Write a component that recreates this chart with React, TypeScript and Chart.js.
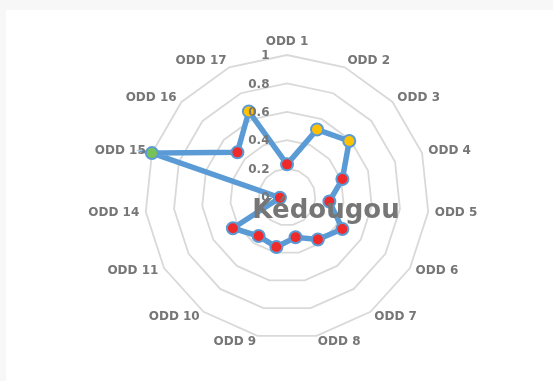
import React, { useEffect, useRef } from "react";
import { Chart, registerables } from "chart.js";

Chart.register(...registerables);

const CATEGORIES = [
  "ODD 1", "ODD 2", "ODD 3", "ODD 4", "ODD 5", "ODD 6", "ODD 7", "ODD 8",
  "ODD 9", "ODD 10", "ODD 11", "ODD 14", "ODD 15", "ODD 16", "ODD 17",
];
const VALUES = [0.23, 0.52, 0.59, 0.41, 0.3, 0.45, 0.37, 0.29, 0.36, 0.34, 0.44, 0.05, 1.0, 0.47, 0.66];
const TICK_VALUES = [0, 0.2, 0.4, 0.6, 0.8, 1];
const TICK_LABELS = ["0", "0.2", "0.4", "0.6", "0.8", "1"];
const TITLE = "Kédougou";

const LINE_COLOR = "#5B9BD5";
const RED = "#EE2A2A";
const YELLOW = "#FFC000";
const GREEN = "#77C257";
const TEXT_COLOR = "#767676";
const GRID_COLOR = "#D9D9D9";
const FONT_FAMILY = '"DejaVu Sans", sans-serif';

const pointColor = (v: number) => (v >= 0.8 ? GREEN : v >= 0.5 ? YELLOW : RED);

const overlayPlugin = {
  id: "overlay",
  afterDatasetsDraw(chart: any) {
    const s = chart.scales.r;
    const ctx = chart.ctx as CanvasRenderingContext2D;
    ctx.save();
    // category labels
    ctx.font = `bold 12px ${FONT_FAMILY}`;
    ctx.fillStyle = TEXT_COLOR;
    ctx.textBaseline = "middle";
    (chart.data.labels as string[]).forEach((lab, i) => {
      const a = s.getIndexAngle(i);
      const sin = Math.sin(a);
      const cos = Math.cos(a);
      const p = s.getPointPosition(i, s.drawingArea + 6.5);
      let y = p.y;
      if (Math.abs(sin) < 0.01) {
        ctx.textAlign = "center";
        y -= cos * 7;
      } else {
        ctx.textAlign = sin > 0 ? "left" : "right";
      }
      ctx.fillText(lab, p.x, y);
    });
    // tick labels
    ctx.textAlign = "right";
    TICK_VALUES.forEach((v, i) => {
      const d = s.getDistanceFromCenterForValue(v);
      ctx.fillText(TICK_LABELS[i], s.xCenter - 17.5, s.yCenter - d + 1);
    });
    // title
    ctx.font = `bold 26px ${FONT_FAMILY}`;
    ctx.textAlign = "center";
    ctx.textBaseline = "alphabetic";
    ctx.fillText(TITLE, s.xCenter + 39, s.yCenter + 21);
    ctx.restore();
  },
};

export default function App() {
  const canvasRef = useRef<HTMLCanvasElement | null>(null);

  useEffect(() => {
    if (!canvasRef.current) return;
    const colors = VALUES.map(pointColor);
    const chart = new Chart(canvasRef.current, {
      type: "radar",
      data: {
        labels: CATEGORIES,
        datasets: [
          {
            label: TITLE,
            data: VALUES,
            borderColor: LINE_COLOR,
            borderWidth: 5.5,
            backgroundColor: "transparent",
            fill: false,
            tension: 0,
            pointRadius: 6,
            pointBorderWidth: 2,
            pointBorderColor: LINE_COLOR,
            pointBackgroundColor: colors,
            pointHoverRadius: 6,
          },
        ],
      },
      options: {
        responsive: false,
        animation: false,
        devicePixelRatio: 1,
        layout: { padding: { left: 21, right: 0, top: 55, bottom: 42 } },
        plugins: {
          legend: { display: false },
          title: { display: false },
          tooltip: { enabled: false },
        },
        scales: {
          r: {
            min: 0,
            max: 1,
            ticks: { stepSize: 0.2, display: false },
            grid: { color: GRID_COLOR, lineWidth: 1.8 },
            angleLines: { display: false },
            pointLabels: { display: false },
          },
        },
      },
      plugins: [overlayPlugin],
    });
    return () => chart.destroy();
  }, []);

  return (
    <div
      style={{
        position: "absolute",
        left: 0,
        top: 0,
        width: 553,
        height: 381,
        background: "#F7F7F7",
        overflow: "hidden",
      }}
    >
      <div
        style={{
          position: "absolute",
          left: 6,
          top: 10,
          right: 0,
          bottom: 0,
          background: "#FFFFFF",
        }}
      />
      <canvas
        ref={canvasRef}
        width={553}
        height={381}
        style={{ position: "absolute", left: 0, top: 0, width: 553, height: 381 }}
      />
    </div>
  );
}
